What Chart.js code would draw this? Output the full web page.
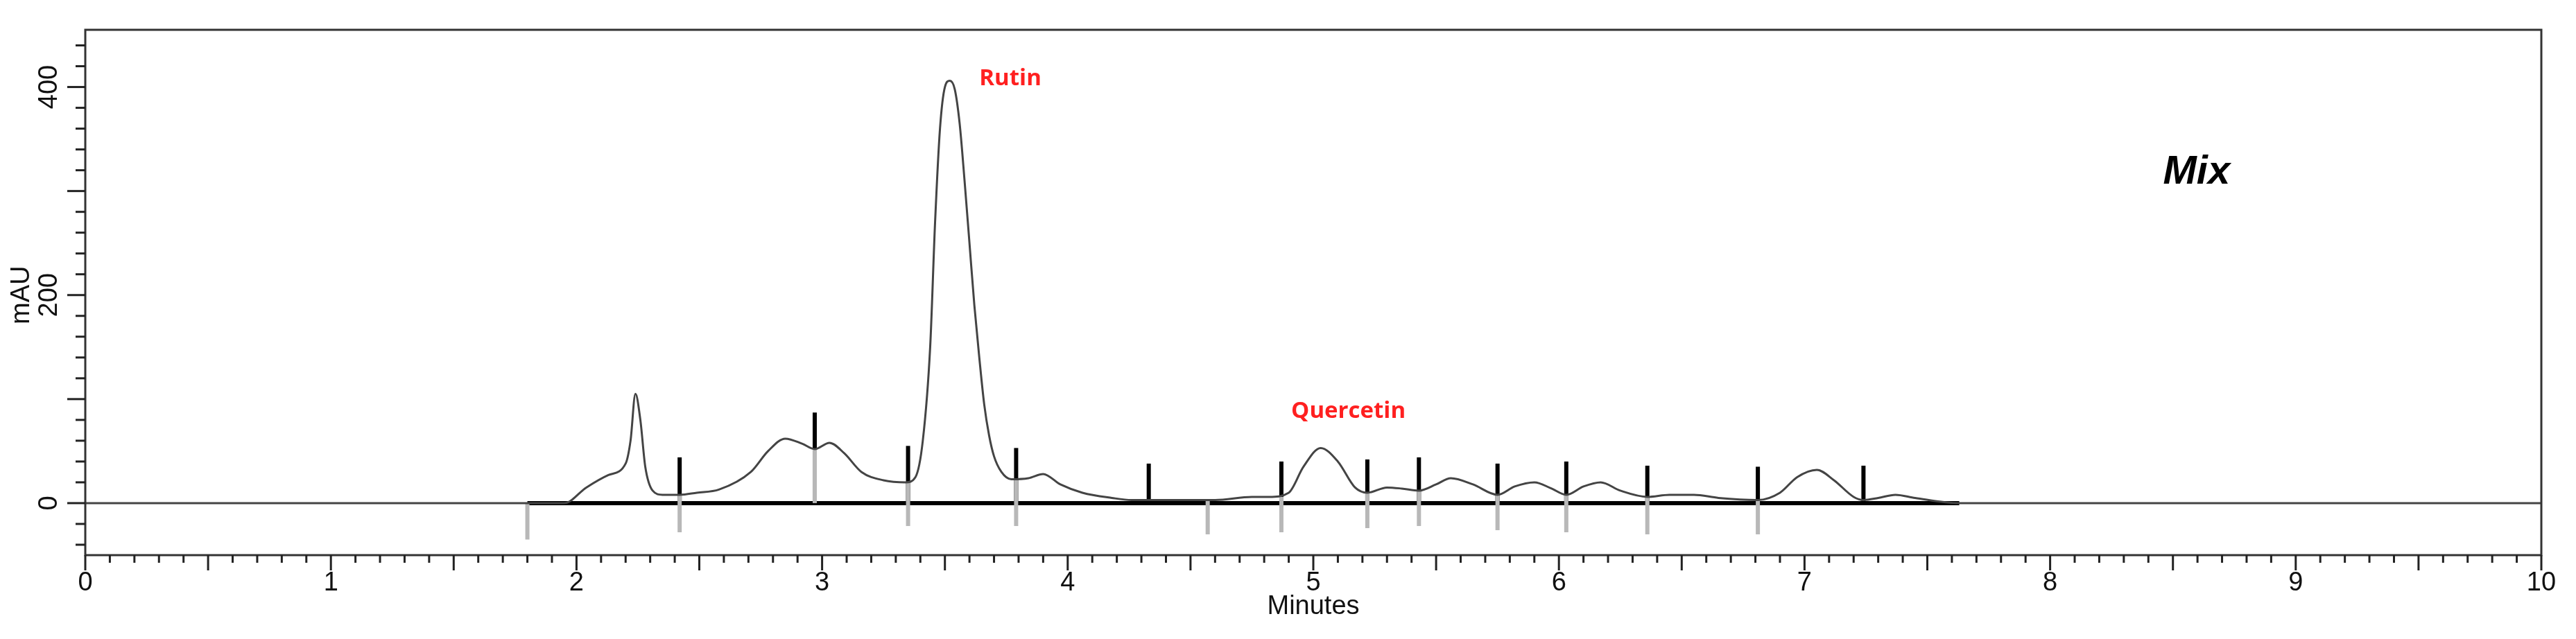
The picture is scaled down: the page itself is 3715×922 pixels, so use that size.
<!DOCTYPE html>
<html><head><meta charset="utf-8">
<script src="https://cdn.jsdelivr.net/npm/chart.js@4.4.0/dist/chart.umd.min.js"></script>
<style>html,body{margin:0;padding:0;background:#fff}#w{width:3715px;height:922px}</style>
</head><body><div id="w"><canvas id="c"></canvas></div>
<script>
const traceMin=[0,1.80,1.95,2.04,2.13,2.20,2.22,2.24,2.26,2.28,2.31,2.35,2.42,2.49,2.58,2.71,2.78,2.85,2.92,2.97,3.03,3.09,3.16,3.25,3.34,3.38,3.41,3.44,3.46,3.48,3.50,3.52,3.54,3.56,3.58,3.60,3.62,3.64,3.66,3.68,3.70,3.73,3.77,3.84,3.90,3.97,4.06,4.18,4.26,4.40,4.60,4.75,4.82,4.90,4.96,5.03,5.10,5.17,5.22,5.30,5.36,5.43,5.50,5.56,5.65,5.75,5.82,5.90,5.97,6.03,6.10,6.17,6.25,6.36,6.45,6.55,6.65,6.81,6.90,6.97,7.05,7.12,7.20,7.24,7.30,7.37,7.45,7.63,10];
const traceVal=[0,0,0,15,27,38,60,105,80,35,12,8,8,10,13,30,50,62,57,52,58,48,30,22,20,25,60,150,270,360,400,406,398,365,310,250,190,140,95,65,45,30,23,24,28,18,10,5,3,3,3,6,6,10,35,53,40,15,10,15,14,12,18,24,18,8,16,20,14,8,16,20,12,6,8,8,5,3,10,25,32,22,6,3,5,8,5,0,0];
const dropMin=[2.42,2.97,3.35,3.79,4.33,4.87,5.22,5.43,5.75,6.03,6.36,6.81,7.24];
const dropTop=[44,87,55,53,38,40,42,44,38,40,36,35,36];
const grayMin=[1.80,2.42,2.97,3.35,3.79,4.57,4.87,5.22,5.43,5.75,6.03,6.36,6.81];
const grayTop=[0,8,52,20,22,3,6,10,12,8,8,6,3];
const grayBottom=[-35,-28,0,-22,-22,-30,-28,-24,-22,-26,-28,-30,-30];
const baselineRange=[1.80,7.63];
const xLabels=[0,1,2,3,4,5,6,7,8,9,10];
const yLabels=[0,200,400];
const notes=[{t:'Rutin',x:3.64,y:408,font:'bold 33px "Open Sans"',c:'#ff2020'},
{t:'Quercetin',x:4.91,y:88,font:'bold 33px "Open Sans"',c:'#ff2020'},
{t:'Mix',x:8.46,y:318,font:'italic bold 58px "Liberation Sans"',c:'#000'}];

const deco={id:'deco',
beforeDatasetsDraw(ch){const c=ch.ctx,x=ch.scales.x,y=ch.scales.y;
 c.save();
 c.strokeStyle='#000';c.lineWidth=1.5;c.beginPath();c.moveTo(x.left,y.getPixelForValue(0));c.lineTo(x.right,y.getPixelForValue(0));c.stroke();
 c.lineWidth=6;c.beginPath();c.moveTo(x.getPixelForValue(baselineRange[0]),y.getPixelForValue(0));c.lineTo(x.getPixelForValue(baselineRange[1]),y.getPixelForValue(0));c.stroke();
 c.strokeStyle='#000';c.lineWidth=6;
 dropMin.forEach((m,i)=>{c.beginPath();c.moveTo(x.getPixelForValue(m),y.getPixelForValue(0));c.lineTo(x.getPixelForValue(m),y.getPixelForValue(dropTop[i]));c.stroke();});
 c.strokeStyle='#b8b8b8';c.lineWidth=6;
 grayMin.forEach((m,i)=>{c.beginPath();c.moveTo(x.getPixelForValue(m),y.getPixelForValue(grayTop[i]));c.lineTo(x.getPixelForValue(m),y.getPixelForValue(grayBottom[i]));c.stroke();});
 c.restore();},
afterDraw(ch){const c=ch.ctx,x=ch.scales.x,y=ch.scales.y,a=ch.chartArea;
 c.save();c.strokeStyle='#333';c.lineWidth=3;c.strokeRect(a.left,a.top,a.right-a.left,a.bottom-a.top);
 c.lineWidth=3;c.strokeStyle='#222';
 for(let k=0;k<=100;k++){const v=k/10,p=x.getPixelForValue(v);let L=k%5==0?22:11;c.beginPath();c.moveTo(p,a.bottom);c.lineTo(p,a.bottom+L);c.stroke();}
 for(let v=-40;v<=440;v+=20){const p=y.getPixelForValue(v);let L=v%100==0?26:14;c.beginPath();c.moveTo(a.left,p);c.lineTo(a.left-L,p);c.stroke();}
 c.fillStyle='#111';c.font='38px "Liberation Sans"';c.textAlign='center';c.textBaseline='top';
 xLabels.forEach(v=>c.fillText(String(v),x.getPixelForValue(v),a.bottom+22));
 c.fillText('Minutes',x.getPixelForValue(5.0),a.bottom+56);
 yLabels.forEach(v=>{c.save();c.translate(a.left-32,y.getPixelForValue(v));c.rotate(-Math.PI/2);c.textBaseline='bottom';c.fillText(String(v),0,0);c.restore();});
 c.save();c.translate(a.left-72,y.getPixelForValue(200));c.rotate(-Math.PI/2);c.textBaseline='bottom';c.fillText('mAU',0,0);c.restore();
 notes.forEach(n=>{c.font=n.font;c.fillStyle=n.c;c.textAlign='left';c.textBaseline='middle';c.fillText(n.t,x.getPixelForValue(n.x),y.getPixelForValue(n.y));});
 c.restore();}};

new Chart(document.getElementById('c'),{type:'line',
data:{datasets:[{data:traceMin.map((m,i)=>({x:m,y:traceVal[i]})),borderColor:'#444',borderWidth:3,pointRadius:0,tension:0.4,cubicInterpolationMode:'monotone',fill:false}]},
options:{responsive:true,maintainAspectRatio:false,animation:false,
 layout:{padding:{top:43,right:50,left:0,bottom:0}},
 plugins:{legend:{display:false},tooltip:{enabled:false}},
 scales:{x:{type:'linear',min:0,max:10,grid:{display:false},border:{display:false},ticks:{display:false},afterFit(s){s.height=121;}},
 y:{min:-50,max:455,grid:{display:false},border:{display:false},ticks:{display:false},afterFit(s){s.width=123;}}}},
plugins:[deco]});
</script></body></html>
